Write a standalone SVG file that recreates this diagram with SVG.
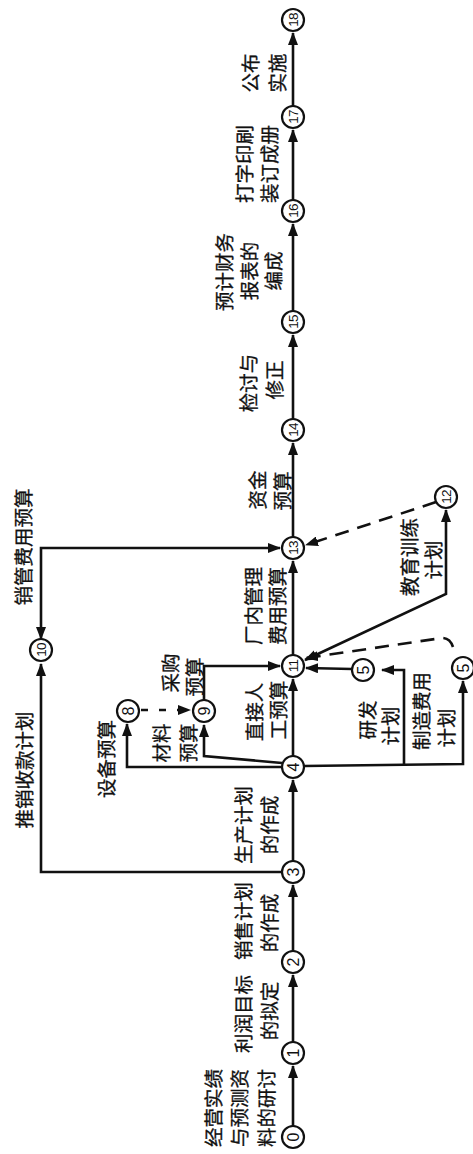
<svg xmlns="http://www.w3.org/2000/svg" width="473" height="1154" viewBox="0 0 473 1154">
<style>
.ln{stroke:#111;stroke-width:2.6;fill:none}
.dl{stroke:#111;stroke-width:2.6;fill:none;stroke-dasharray:14 9}
.nd{fill:#fff;stroke:#111;stroke-width:2.2}
.num{font-family:"Liberation Sans",Arial,sans-serif;font-size:16px;fill:#111;text-anchor:middle;dominant-baseline:central}
.num2{font-family:"Liberation Sans",Arial,sans-serif;font-size:13.5px;fill:#111;text-anchor:middle;dominant-baseline:central;letter-spacing:-0.8px}
.lb{font-family:"Noto Sans CJK SC","Noto Sans",sans-serif;font-size:19.5px;fill:#111;stroke:#111;stroke-width:0.3;text-anchor:middle;dominant-baseline:central}
</style>
<defs>
<marker id="ah" markerUnits="userSpaceOnUse" markerWidth="14" markerHeight="10" refX="12" refY="5" orient="auto-start-reverse">
<path d="M0,0 L13,5 L0,10 z" fill="#111"/>
</marker>
</defs>
<rect width="473" height="1154" fill="#fff"/>

<g id="connectors">
<path class="ln" d="M293,1126 L293,1066" marker-end="url(#ah)"/>
<path class="ln" d="M293,1042 L293,975" marker-end="url(#ah)"/>
<path class="ln" d="M293,951 L293,885" marker-end="url(#ah)"/>
<path class="ln" d="M293,861 L293,780" marker-end="url(#ah)"/>
<path class="ln" d="M293,756 L293,679" marker-end="url(#ah)"/>
<path class="ln" d="M293,655 L293,561" marker-end="url(#ah)"/>
<path class="ln" d="M293,537 L293,443" marker-end="url(#ah)"/>
<path class="ln" d="M293,419 L293,335" marker-end="url(#ah)"/>
<path class="ln" d="M293,311 L293,224" marker-end="url(#ah)"/>
<path class="ln" d="M293,200 L293,130" marker-end="url(#ah)"/>
<path class="ln" d="M293,106 L293,33" marker-end="url(#ah)"/>
<path class="ln" d="M282,872 L41,872 L41,664" marker-end="url(#ah)"/>
<path class="ln" d="M41,639 L41,548 L280,548" marker-start="url(#ah)" marker-end="url(#ah)"/>
<path class="ln" d="M282,767 L127,767 L127,724" marker-end="url(#ah)"/>
<path class="ln" d="M282,763 L204,756 L204,725" marker-end="url(#ah)"/>
<path class="dl" d="M141,710 L190,710" style="stroke-dasharray:7 11" marker-end="url(#ah)"/>
<path class="ln" d="M204,700 L204,666 L280,666" marker-end="url(#ah)"/>
<path class="ln" d="M304,766 L463,764 L463,681" marker-end="url(#ah)"/>
<path class="ln" d="M404,765 L404,670 L382,670" marker-end="url(#ah)"/>
<path class="ln" d="M352,669 L306,668" marker-end="url(#ah)"/>
<path class="ln" d="M305,660 L446,594 L446,510" marker-start="url(#ah)" marker-end="url(#ah)"/>
<path class="dl" d="M453,647 Q450,638 442,638 L306,658" marker-end="url(#ah)"/>
<path class="dl" d="M436,502 L306,545" marker-end="url(#ah)"/>
</g>

<g id="n0"><circle class="nd" cx="293" cy="1137" r="11"/><text class="num" transform="translate(293,1137) rotate(-90)">0</text></g>
<g id="n1"><circle class="nd" cx="293" cy="1053" r="11"/><text class="num" transform="translate(293,1053) rotate(-90)">1</text></g>
<g id="n2"><circle class="nd" cx="293" cy="962" r="11"/><text class="num" transform="translate(293,962) rotate(-90)">2</text></g>
<g id="n3"><circle class="nd" cx="293" cy="872" r="11"/><text class="num" transform="translate(293,872) rotate(-90)">3</text></g>
<g id="n4"><circle class="nd" cx="293" cy="767" r="11"/><text class="num" transform="translate(293,767) rotate(-90)">4</text></g>
<g id="n8"><circle class="nd" cx="128" cy="711" r="11"/><text class="num" transform="translate(128,711) rotate(-90)">8</text></g>
<g id="n9"><circle class="nd" cx="204" cy="711" r="11"/><text class="num" transform="translate(204,711) rotate(-90)">9</text></g>
<g id="n10"><circle class="nd" cx="41" cy="650" r="11"/><text class="num2" transform="translate(41,650) rotate(-90)">10</text></g>
<g id="n11"><circle class="nd" cx="293" cy="666" r="11"/><text class="num2" transform="translate(293,666) rotate(-90)">11</text></g>
<g id="n5a"><circle class="nd" cx="363" cy="670" r="11"/><text class="num" transform="translate(363,670) rotate(-90)">5</text></g>
<g id="n5b"><circle class="nd" cx="463" cy="668" r="11"/><text class="num" transform="translate(463,668) rotate(-90)">5</text></g>
<g id="n12"><circle class="nd" cx="446" cy="497" r="11"/><text class="num2" transform="translate(446,497) rotate(-90)">12</text></g>
<g id="n13"><circle class="nd" cx="293" cy="548" r="11"/><text class="num2" transform="translate(293,548) rotate(-90)">13</text></g>
<g id="n14"><circle class="nd" cx="293" cy="430" r="11"/><text class="num2" transform="translate(293,430) rotate(-90)">14</text></g>
<g id="n15"><circle class="nd" cx="293" cy="322" r="11"/><text class="num2" transform="translate(293,322) rotate(-90)">15</text></g>
<g id="n16"><circle class="nd" cx="293" cy="211" r="11"/><text class="num2" transform="translate(293,211) rotate(-90)">16</text></g>
<g id="n17"><circle class="nd" cx="293" cy="117" r="11"/><text class="num2" transform="translate(293,117) rotate(-90)">17</text></g>
<g id="n18"><circle class="nd" cx="293" cy="20" r="11"/><text class="num2" transform="translate(293,20) rotate(-90)">18</text></g>

<g id="labels">
<text class="lb" transform="translate(212,1108) rotate(-90)">经营实绩</text>
<text class="lb" transform="translate(238,1108) rotate(-90)">与预测资</text>
<text class="lb" transform="translate(265,1108) rotate(-90)">料的研讨</text>
<text class="lb" transform="translate(242,1014) rotate(-90)">利润目标</text>
<text class="lb" transform="translate(268,1011) rotate(-90)">的拟定</text>
<text class="lb" transform="translate(242,921) rotate(-90)">销售计划</text>
<text class="lb" transform="translate(268,923) rotate(-90)">的作成</text>
<text class="lb" transform="translate(242,825) rotate(-90)">生产计划</text>
<text class="lb" transform="translate(268,825) rotate(-90)">的作成</text>
<text class="lb" transform="translate(23,770) rotate(-90)">推销收款计划</text>
<text class="lb" transform="translate(22,547) rotate(-90)">销管费用预算</text>
<text class="lb" transform="translate(105,759) rotate(-90)">设备预算</text>
<text class="lb" transform="translate(160,743) rotate(-90)">材料</text>
<text class="lb" transform="translate(187,743) rotate(-90)">预算</text>
<text class="lb" transform="translate(169,673) rotate(-90)">采购</text>
<text class="lb" transform="translate(193,677) rotate(-90)">预算</text>
<text class="lb" transform="translate(253,712) rotate(-90)">直接人</text>
<text class="lb" transform="translate(277,710) rotate(-90)">工预算</text>
<text class="lb" transform="translate(252,606) rotate(-90)">厂内管理</text>
<text class="lb" transform="translate(276,606) rotate(-90)">费用预算</text>
<text class="lb" transform="translate(256,490) rotate(-90)">资金</text>
<text class="lb" transform="translate(281,491) rotate(-90)">预算</text>
<text class="lb" transform="translate(247,383) rotate(-90)">检讨与</text>
<text class="lb" transform="translate(273,380) rotate(-90)">修正</text>
<text class="lb" transform="translate(223,272) rotate(-90)">预计财务</text>
<text class="lb" transform="translate(248,271) rotate(-90)">报表的</text>
<text class="lb" transform="translate(272,271) rotate(-90)">编成</text>
<text class="lb" transform="translate(243,164) rotate(-90)">打字印刷</text>
<text class="lb" transform="translate(268,164) rotate(-90)">装订成册</text>
<text class="lb" transform="translate(249,73) rotate(-90)">公布</text>
<text class="lb" transform="translate(276,73) rotate(-90)">实施</text>
<text class="lb" transform="translate(408,557) rotate(-90)">教育训练</text>
<text class="lb" transform="translate(432,560) rotate(-90)">计划</text>
<text class="lb" transform="translate(366,720) rotate(-90)">研发</text>
<text class="lb" transform="translate(389,726) rotate(-90)">计划</text>
<text class="lb" transform="translate(420,711) rotate(-90)">制造费用</text>
<text class="lb" transform="translate(445,728) rotate(-90)">计划</text>
</g>
</svg>
